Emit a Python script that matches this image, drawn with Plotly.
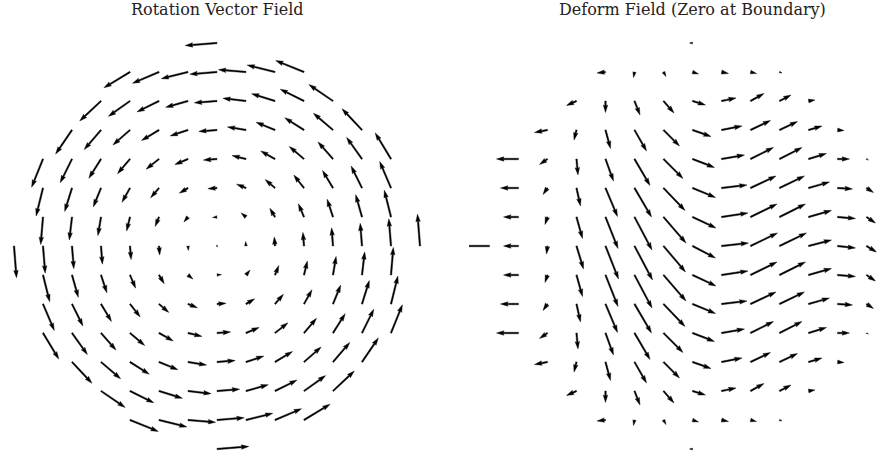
import numpy as np
import plotly.graph_objects as go

# ---------------- data ----------------
# grid rows (y, grid units) and the largest |x| on each row (disc of radius 7)
ROW_Y = [7, 6, 5, 4, 3, 2, 1, 0, -1, -2, -3, -4, -5, -6, -7]
ROW_XMAX = [0, 3, 4, 5, 6, 6, 6, 7, 6, 6, 6, 5, 4, 3, 0]

# vector components (1 unit = 1/29 of a grid step), one list per row, x ascending
ROT_U = [
    [-31.8],
    [-26.1, -26.5, -26.8, -27.2, -27.6, -27.9, -28.3],
    [-21.3, -21.6, -22.0, -22.3, -22.7, -23.1, -23.4, -23.8, -24.1],
    [-16.4, -16.8, -17.1, -17.5, -17.8, -18.2, -18.6, -18.9, -19.3, -19.6, -20.0],
    [-11.4, -11.8, -12.2, -12.5, -12.9, -13.2, -13.6, -14.0, -14.3, -14.7, -15.0, -15.4, -15.8],
    [-6.9, -7.3, -7.7, -8.0, -8.4, -8.7, -9.1, -9.5, -9.8, -10.2, -10.5, -10.9, -11.3],
    [-2.3, -2.7, -3.1, -3.4, -3.8, -4.1, -4.5, -4.9, -5.2, -5.6, -5.9, -6.3, -6.7],
    [2.5, 2.2, 1.8, 1.4, 1.1, 0.7, 0.4, 0.0, -0.4, -0.7, -1.1, -1.4, -1.8, -2.2, -2.5],
    [6.7, 6.3, 5.9, 5.6, 5.2, 4.9, 4.5, 4.1, 3.8, 3.4, 3.1, 2.7, 2.3],
    [11.3, 10.9, 10.5, 10.2, 9.8, 9.5, 9.1, 8.7, 8.4, 8.0, 7.7, 7.3, 6.9],
    [15.8, 15.4, 15.0, 14.7, 14.3, 14.0, 13.6, 13.2, 12.9, 12.5, 12.2, 11.8, 11.4],
    [20.0, 19.6, 19.3, 18.9, 18.6, 18.2, 17.8, 17.5, 17.1, 16.8, 16.4],
    [24.1, 23.8, 23.4, 23.1, 22.7, 22.3, 22.0, 21.6, 21.3],
    [28.3, 27.9, 27.6, 27.2, 26.8, 26.5, 26.1],
    [31.8],
]
ROT_V = [
    [-2.5],
    [-15.8, -11.3, -6.7, -2.2, 2.3, 6.9, 11.4],
    [-20.0, -15.4, -10.9, -6.3, -1.8, 2.7, 7.3, 11.8, 16.4],
    [-24.1, -19.6, -15.0, -10.5, -5.9, -1.4, 3.1, 7.7, 12.2, 16.8, 21.3],
    [-28.3, -23.8, -19.3, -14.7, -10.2, -5.6, -1.1, 3.4, 8.0, 12.5, 17.1, 21.6, 26.1],
    [-27.9, -23.4, -18.9, -14.3, -9.8, -5.2, -0.7, 3.8, 8.4, 12.9, 17.5, 22.0, 26.5],
    [-27.6, -23.1, -18.6, -14.0, -9.5, -4.9, -0.4, 4.1, 8.7, 13.2, 17.8, 22.3, 26.8],
    [-31.8, -27.2, -22.7, -18.2, -13.6, -9.1, -4.5, 0.0, 4.5, 9.1, 13.6, 18.2, 22.7, 27.2, 31.8],
    [-26.8, -22.3, -17.8, -13.2, -8.7, -4.1, 0.4, 4.9, 9.5, 14.0, 18.6, 23.1, 27.6],
    [-26.5, -22.0, -17.5, -12.9, -8.4, -3.8, 0.7, 5.2, 9.8, 14.3, 18.9, 23.4, 27.9],
    [-26.1, -21.6, -17.1, -12.5, -8.0, -3.4, 1.1, 5.6, 10.2, 14.7, 19.3, 23.8, 28.3],
    [-21.3, -16.8, -12.2, -7.7, -3.1, 1.4, 5.9, 10.5, 15.0, 19.6, 24.1],
    [-16.4, -11.8, -7.3, -2.7, 1.8, 6.3, 10.9, 15.4, 20.0],
    [-11.4, -6.9, -2.3, 2.2, 6.7, 11.3, 15.8],
    [2.5],
]

DEF_U = [
    [-3],
    [-8.5, -1, 2.5, 6, 7, 6, 2.5],
    [-10, 0, 5.5, 10.5, 13, 14.5, 13.5, 11.5, 6.5],
    [-13, -2.5, 5, 12, 16, 18.5, 20.5, 20, 18, 13.5, 6.5],
    [-22, -8, 1.5, 8, 15.5, 19.5, 22, 23, 23, 22.5, 18, 12, 2],
    [-18, -4.5, 4, 12, 17, 21.5, 23, 25.5, 25.5, 25, 21, 15, 7],
    [-15, -2.5, 6, 12.5, 17.5, 22.5, 23.5, 26.5, 26.5, 26, 23, 18, 9],
    [-32, -15, -1, 7, 13, 18, 22, 23, 27, 27, 27, 23, 18, 10, 0],
    [-15, -2.5, 6, 12.5, 17.5, 22.5, 23.5, 26.5, 26.5, 26, 23, 18, 9],
    [-18, -4.5, 4, 12, 17, 21.5, 23, 25.5, 25.5, 25, 21, 15, 7],
    [-22, -8, 1.5, 8, 15.5, 19.5, 22, 23, 23, 22.5, 18, 12, 2],
    [-13, -2.5, 5, 12, 16, 18.5, 20.5, 20, 18, 13.5, 6.5],
    [-10, 0, 5.5, 10.5, 13, 14.5, 13.5, 11.5, 6.5],
    [-8.5, -1, 2.5, 6, 7, 6, 2.5],
    [-3],
]
DEF_V = [
    [0],
    [-1, -5.5, -4.5, -2, -1.5, -1.5, -1],
    [-4.5, -11.5, -14, -12, -4, 3, 7.5, 6, 1],
    [-2.5, -10, -18.5, -21, -16, -6.5, 4, 9.5, 8.5, 4, -0.5],
    [0, -5.5, -16, -22, -26.5, -19.5, -8.5, 4, 11.5, 11.5, 5.5, 0, -1],
    [0, -6.5, -18, -28.5, -29, -22.5, -9.5, 3, 12, 12, 6, -1, -4.5],
    [0, -7.5, -21.5, -31.5, -33, -26, -11, 4, 13, 13, 6.5, -1.5, -6],
    [0, 0, -8, -23, -33, -34, -26, -12, 3, 13, 13, 6, -2, -6, 0],
    [0, -7.5, -21.5, -31.5, -33, -26, -11, 4, 13, 13, 6.5, -1.5, -6],
    [0, -6.5, -18, -28.5, -29, -22.5, -9.5, 3, 12, 12, 6, -1, -4.5],
    [0, -5.5, -16, -22, -26.5, -19.5, -8.5, 4, 11.5, 11.5, 5.5, 0, -1],
    [-2.5, -10, -18.5, -21, -16, -6.5, 4, 9.5, 8.5, 4, -0.5],
    [-4.5, -11.5, -14, -12, -4, 3, 7.5, 6, 1],
    [-1, -5.5, -4.5, -2, -1.5, -1.5, -1],
    [0],
]

TITLES = ["Rotation Vector Field", "Deform Field (Zero at Boundary)"]

# ---------------- styling / layout ----------------
W_PX, H_PX = 894, 460
STEP = 29.0              # pixels per grid unit (equal aspect)
VEC_UNIT = 29.0          # vector value units per grid unit
SHAFT = 1.5 / STEP       # quiver shaft width in data units
HEADW, HEADL, HEADAXL, MINSHAFT, MINLEN = 3.0, 5.0, 4.5, 1.0, 1.0
TOP = 23                 # top margin (px)
CENTERS = [217.0, 692.5] # panel centres (px)
ROW0_PX = 246.0
LEFT_DOM = (0.0, 440.0)
RIGHT_DOM = (469.0, 894.0)


def arrow_polygon(x0, y0, u, v):
    L = np.hypot(u, v) / SHAFT
    minsh = MINSHAFT * HEADL
    if L < MINLEN:
        th = np.arange(8) * np.pi / 3.0
        px = np.cos(th) * MINLEN * 0.5
        py = np.sin(th) * MINLEN * 0.5
    elif L < minsh:
        s = L / minsh
        px = s * np.array([0, minsh - HEADAXL, minsh - HEADL, minsh, minsh - HEADL, minsh - HEADAXL, 0, 0])
        py = s * np.array([0.5, 0.5, HEADW / 2, 0, -HEADW / 2, -0.5, -0.5, 0.5])
    else:
        px = np.array([0, L - HEADAXL, L - HEADL, L, L - HEADL, L - HEADAXL, 0, 0])
        py = np.array([0.5, 0.5, HEADW / 2, 0, -HEADW / 2, -0.5, -0.5, 0.5])
    a = np.arctan2(v, u)
    c, s_ = np.cos(a), np.sin(a)
    X = x0 + SHAFT * (px * c - py * s_)
    Y = y0 + SHAFT * (px * s_ + py * c)
    return list(X), list(Y)


def quiver_trace(U, V, xa, ya):
    xs, ys = [], []
    for y, xmax, urow, vrow in zip(ROW_Y, ROW_XMAX, U, V):
        xvals = list(range(-xmax, xmax + 1))
        for x, u, v in zip(xvals, urow, vrow):
            X, Y = arrow_polygon(x, y, u / VEC_UNIT, v / VEC_UNIT)
            xs += X + [None]
            ys += Y + [None]
    return go.Scatter(x=xs, y=ys, mode="lines", fill="toself", fillcolor="black",
                      line=dict(width=0.4, color="black"), hoverinfo="skip",
                      showlegend=False, xaxis=xa, yaxis=ya)


fig = go.Figure()
fig.add_trace(quiver_trace(ROT_U, ROT_V, "x", "y"))
fig.add_trace(quiver_trace(DEF_U, DEF_V, "x2", "y2"))

plot_h = H_PX - TOP
yr = [(ROW0_PX - H_PX) / STEP, (ROW0_PX - TOP) / STEP]


def xrange_for(dom, c):
    return [(dom[0] - c) / STEP, (dom[1] - c) / STEP]


axis_common = dict(visible=False, showgrid=False, zeroline=False, fixedrange=True)
fig.update_layout(
    width=W_PX, height=H_PX,
    margin=dict(l=0, r=0, t=TOP, b=0, pad=0),
    paper_bgcolor="white", plot_bgcolor="white",
    xaxis=dict(domain=[LEFT_DOM[0] / W_PX, LEFT_DOM[1] / W_PX],
               range=xrange_for(LEFT_DOM, CENTERS[0]), anchor="y", **axis_common),
    yaxis=dict(domain=[0, 1], range=yr, anchor="x", **axis_common),
    xaxis2=dict(domain=[RIGHT_DOM[0] / W_PX, RIGHT_DOM[1] / W_PX],
                range=xrange_for(RIGHT_DOM, CENTERS[1]), anchor="y2", **axis_common),
    yaxis2=dict(domain=[0, 1], range=yr, anchor="x2", **axis_common),
)

for title, c in zip(TITLES, CENTERS):
    fig.add_annotation(text=title, xref="paper", yref="paper",
                       x=c / W_PX, y=1 + (TOP - 9.0) / plot_h,
                       xanchor="center", yanchor="middle", showarrow=False,
                       font=dict(family="DejaVu Serif", size=16, color="#222222"))

fig.write_html("out.html", config={"displayModeBar": False},
               post_script="document.body.style.margin='0px';document.body.style.overflow='hidden';")
